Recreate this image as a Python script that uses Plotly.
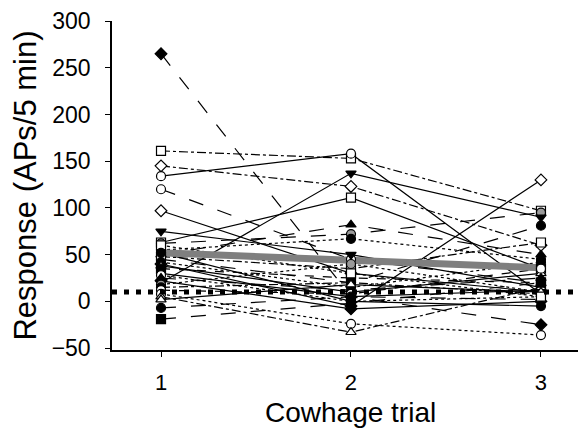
import plotly.graph_objects as go

trials = [1, 2, 3]
tick_vals_y = [-50, 0, 50, 100, 150, 200, 250, 300]

# subject responses per trial (APs/5 min)
s01 = [265, 5, -25]
s02 = [161, 153, 97]
s03 = [145, 123, 60]
s04 = [134, 158, 8]
s05 = [120, 45, 20]
s06 = [97, 30, 10]
s07 = [75, 50, 15]
s08 = [63, 111, 35]
s09 = [62, 72, 95]
s10 = [55, 67, 45]
s11 = [50, 82, 50]
s12 = [20, 137, 90]
s13 = [40, -5, 130]
s14 = [45, 20, 81]
s15 = [48, 35, 63]
s16 = [42, 15, 42]
s17 = [38, 10, 30]
s18 = [35, 25, 20]
s19 = [30, 5, 12]
s20 = [28, 0, 5]
s21 = [25, 12, 25]
s22 = [22, -8, 0]
s23 = [18, 40, 10]
s24 = [15, 20, 8]
s25 = [12, 8, 35]
s26 = [8, -24, -36]
s27 = [5, -33, 15]
s28 = [2, 18, 10]
s29 = [-7, 5, 2]
s30 = [-19, -2, 20]
s31 = [60, 30, 5]
s32 = [52, 0, -5]

mean_resp = [52, 44, 36]
threshold = 10

subjects = [s01, s02, s03, s04, s05, s06, s07, s08, s09, s10, s11, s12, s13, s14, s15, s16,
            s17, s18, s19, s20, s21, s22, s23, s24, s25, s26, s27, s28, s29, s30, s31, s32]
symbols = ["diamond", "square", "diamond", "circle", "circle", "diamond", "triangle-down", "square",
           "circle", "circle", "triangle-up", "triangle-down", "diamond", "circle", "square", "circle",
           "triangle-up", "square", "circle", "circle", "triangle-up", "diamond", "circle", "circle",
           "circle", "circle", "triangle-up", "triangle-up", "circle", "square", "square", "circle"]
fills = ["k", "w", "w", "w", "w", "w", "k", "w", "g", "k", "k", "k", "w", "k", "w", "k",
         "w", "k", "k", "w", "k", "k", "g", "k", "w", "w", "w", "w", "k", "k", "w", "k"]
dashes = ["longdash", "dashdot", "dashdot", "solid", "longdash", "solid", "solid", "solid",
          "longdash", "dot", "longdash", "solid", "solid", "longdash", "dashdot", "dot",
          "solid", "dash", "solid", "dot", "longdash", "solid", "dot", "dashdot",
          "dash", "dot", "dashdot", "solid", "longdash", "longdash", "dot", "solid"]
fill_color = {"k": "black", "w": "white", "g": "#9a9a9a"}

fig = go.Figure()

for vals, dash in zip(subjects, dashes):
    fig.add_trace(go.Scatter(x=trials, y=vals, mode="lines",
                             line=dict(color="black", width=1.2, dash=dash),
                             showlegend=False, hoverinfo="skip"))

fig.add_trace(go.Scatter(x=trials, y=mean_resp, mode="lines",
                         line=dict(color="#7f7f7f", width=7), showlegend=False))

for vals, sym, f in zip(subjects, symbols, fills):
    fig.add_trace(go.Scatter(x=trials, y=vals, mode="markers",
                             marker=dict(symbol=sym, size=9, color=fill_color[f],
                                         line=dict(color="black", width=1.2)),
                             showlegend=False))

fig.add_trace(go.Scatter(x=[0.742, 3.237], y=[threshold, threshold], mode="lines",
                         line=dict(color="black", width=5, dash="5px,7px"),
                         showlegend=False, hoverinfo="skip"))

fig.add_annotation(text="Cowhage trial", xref="x", yref="paper", x=2, y=-0.19,
                   yanchor="middle", xanchor="center", showarrow=False,
                   font=dict(size=28, family="Liberation Sans, Arial, sans-serif", color="black"))

fig.update_layout(
    width=578, height=422,
    margin=dict(l=104, r=0, t=11, b=80),
    paper_bgcolor="white", plot_bgcolor="white",
    font=dict(family="Liberation Sans, Arial, sans-serif", color="black", size=23),
    xaxis=dict(range=[0.742, 3.237], tickvals=trials, ticktext=["1", "2", "3"],
               showgrid=False, zeroline=False, showline=True, linecolor="black", linewidth=1.5,
               ticks="outside", ticklen=5, tickcolor="black", tickfont=dict(size=22),
               ticklabelstandoff=7, ticklabeloverflow="allow"),
    yaxis=dict(range=[-52, 300], tickvals=tick_vals_y,
               showgrid=False, zeroline=False, showline=True, linecolor="black", linewidth=1.5,
               ticks="outside", ticklen=5, tickcolor="black", tickfont=dict(size=23),
               ticklabelstandoff=10, ticklabeloverflow="allow",
               title=dict(text="Response (APs/5 min)", font=dict(size=31), standoff=8)),
)

fig.write_html("out.html")
